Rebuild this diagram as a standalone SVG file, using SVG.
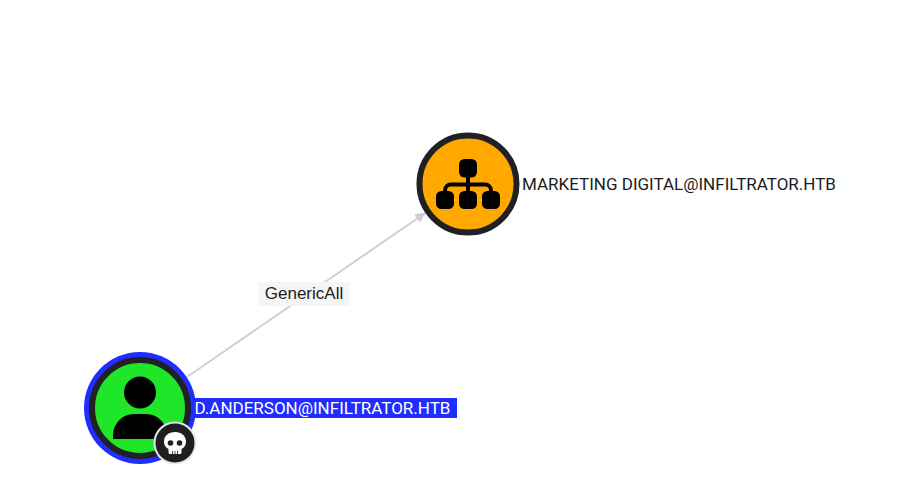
<svg xmlns="http://www.w3.org/2000/svg" width="919" height="498" viewBox="0 0 919 498">
<style>
text{font-family:Roboto,"Liberation Sans",sans-serif;font-size:17px}
.ring{fill:none;stroke:#212125;stroke-width:6}
</style>
<defs>
<marker id="arr" markerUnits="userSpaceOnUse" markerWidth="12" markerHeight="12" refX="11" refY="5" orient="auto"><path d="M0 0L11 5L0 10Z" fill="#cfcfcf"/></marker>
</defs>
<rect width="919" height="498" fill="#fff"/>
<g id="connectors">
<line x1="187" y1="377" x2="426" y2="212.500" stroke="#d0d0d0" stroke-width="2" marker-end="url(#arr)"/>
<g id="edge-label">
<rect x="258" y="282" width="92" height="24" fill="#f5f5f5"/>
<text x="304" y="299" text-anchor="middle" fill="#1c1c1c" style="font-family:'Liberation Sans',Arial,sans-serif">GenericAll</text>
</g>
</g>
<g id="node-marketing">
<circle cx="468" cy="184" r="48.500" fill="#ffa900"/>
<circle cx="468" cy="184" r="48.500" class="ring"/>
<rect x="459" y="159" width="18" height="18.500" rx="5.500" fill="#000"/>
<path d="M468 176v14M445 196v-5.500a6 6 0 0 1 6-6h34a6 6 0 0 1 6 6v5.500M468 184v8" fill="none" stroke="#000" stroke-width="4"/>
<rect x="436" y="191" width="18" height="18" rx="5.500" fill="#000"/>
<rect x="459" y="191" width="18" height="18" rx="5.500" fill="#000"/>
<rect x="482" y="191" width="18" height="18" rx="5.500" fill="#000"/>
<text x="522" y="190" fill="#1c1c1c">MARKETING DIGITAL@INFILTRATOR.HTB</text>
</g>
<g id="node-anderson">
<rect x="190" y="398" width="267" height="20" fill="#1f2dff"/>
<circle cx="140" cy="408" r="56" fill="#1f2dff"/>
<circle cx="140" cy="408" r="48" fill="#1ee628"/>
<circle cx="140" cy="408" r="48" class="ring"/>
<circle cx="140" cy="392.500" r="16" fill="#000"/>
<path d="M113 439v-4a21 21 0 0 1 21-21h12a21 21 0 0 1 21 21v4z" fill="#000"/>
<text x="194.500" y="414" fill="#fff">D.ANDERSON@INFILTRATOR.HTB</text>
<g id="badge">
<circle cx="175" cy="443" r="20.500" fill="#1f1f22" stroke="#e8e8e8" stroke-width="2"/>
<path d="M175 432c-6.500 0-11 4-11 9.500 0 3.500 1.500 6 4.500 7.500v3.500a1.500 1.500 0 0 0 1.500 1.500h10a1.500 1.500 0 0 0 1.500-1.500v-3.500c3-1.500 4.500-4 4.500-7.500 0-5.500-4.500-9.500-11-9.500z" fill="#fff"/>
<circle cx="170.500" cy="443" r="2.800" fill="#1f1f22"/>
<circle cx="179.500" cy="443" r="2.800" fill="#1f1f22"/>
<path d="M172.500 451v3M175 451v3M177.500 451v3" stroke="#1f1f22" stroke-width="0.800"/>
</g>
</g>
</svg>
